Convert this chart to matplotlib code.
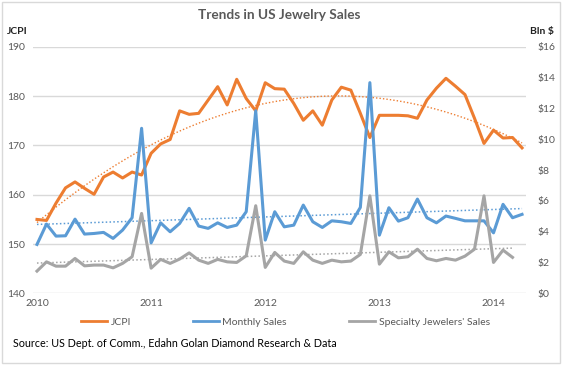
import numpy as np
import matplotlib
matplotlib.use("Agg")
import matplotlib.pyplot as plt
from matplotlib.patches import Rectangle

plt.rcParams['font.family'] = ['Lato', 'DejaVu Sans']

# monthly values, Jan 2010 .. Apr 2014
jcpi = [155.0, 154.8, 158.3, 161.4, 162.6, 161.3, 160.1, 163.6, 164.6, 163.4,
        164.6, 164.0, 168.4, 170.3, 171.2, 177.0, 176.3, 176.5, 179.2, 181.9,
        178.2, 183.4, 179.5, 177.0, 182.7, 181.5, 181.4, 178.5, 175.1, 177.0,
        174.1, 179.2, 181.8, 181.2, 176.5, 171.6, 176.1, 176.1, 176.1, 176.0,
        175.5, 179.2, 181.6, 183.6, 182.0, 180.3, 175.5, 170.4, 173.1, 171.5,
        171.6, 169.5]
monthly_sales = [3.18, 4.50, 3.72, 3.74, 4.82, 3.85, 3.89, 3.96, 3.57, 4.11,
                 4.91, 10.71, 3.28, 4.58, 4.00, 4.54, 5.52, 4.37, 4.22, 4.58,
                 4.28, 4.43, 5.30, 11.85, 3.46, 5.30, 4.32, 4.43, 5.73, 4.65,
                 4.28, 4.71, 4.65, 4.54, 5.58, 13.67, 3.78, 5.56, 4.69, 4.91,
                 6.12, 4.91, 4.58, 5.02, 4.87, 4.71, 4.71, 4.71, 3.93, 5.78,
                 4.91, 5.13]
specialty_sales = [1.45, 2.05, 1.77, 1.77, 2.27, 1.79, 1.84, 1.84, 1.66, 1.95,
                   2.38, 5.19, 1.64, 2.21, 1.95, 2.23, 2.63, 2.16, 1.95, 2.21,
                   2.05, 2.01, 2.44, 5.69, 1.69, 2.66, 2.10, 1.95, 2.70, 2.16,
                   1.95, 2.16, 2.05, 2.10, 2.53, 6.33, 1.90, 2.70, 2.31, 2.38,
                   2.87, 2.27, 2.12, 2.27, 2.16, 2.42, 2.87, 6.33, 2.01, 2.81,
                   2.34]
year_labels = ["2010", "2011", "2012", "2013", "2014"]

ORANGE = "#ED7D31"
BLUE = "#5B9BD5"
GRAY = "#A5A5A5"
TXT = "#595959"

fig = plt.figure(figsize=(5.62, 3.65), dpi=100)
fig.patches.append(Rectangle((0.004, 0.006), 0.992, 0.988, transform=fig.transFigure,
                             fill=False, edgecolor="#D9D9D9", linewidth=1))
ax = fig.add_axes([0.0587, 0.196, 0.8773, 0.676])
ax2 = ax.twinx()

x_j = np.arange(len(jcpi))
x_m = np.arange(len(monthly_sales))
x_s = np.arange(len(specialty_sales))

ax.plot(x_j, jcpi, color=ORANGE, lw=2.2, zorder=3)
ax2.plot(x_m, monthly_sales, color=BLUE, lw=2.2, zorder=3)
ax2.plot(x_s, specialty_sales, color=GRAY, lw=2.2, zorder=3)

# trendlines (poly order 2 for JCPI, linear for sales)
p = np.polyfit(x_j, jcpi, 2)
ax.plot(x_j, np.polyval(p, x_j), color=ORANGE, lw=1, ls=(0, (1, 1.5)))
p = np.polyfit(x_m, monthly_sales, 1)
ax2.plot(x_m, np.polyval(p, x_m), color=BLUE, lw=1.1, ls=(0, (1, 1.5)))
p = np.polyfit(x_s, specialty_sales, 1)
ax2.plot(x_s, np.polyval(p, x_s), color=GRAY, lw=1.1, ls=(0, (1, 1.5)))

ax.set_xlim(-0.42, 51.42)
ax.set_ylim(140, 190)
ax.set_yticks(np.arange(140, 191, 10))
ax.grid(axis="y", color="#D9D9D9", lw=1)
ax.set_axisbelow(True)
ax.set_xticks(np.arange(0, 49, 12))
ax.set_xticklabels(year_labels)
ax2.set_ylim(0, 16)
ax2.set_yticks(np.arange(0, 17, 2))
ax2.set_yticklabels([f"${v}" for v in range(0, 17, 2)])

for a in (ax, ax2):
    for s in a.spines.values():
        s.set_visible(False)
    a.tick_params(length=0, labelsize=7.5, labelcolor=TXT)
ax.tick_params(axis="y", pad=6)
ax2.tick_params(axis="y", pad=8)
ax.tick_params(axis="x", pad=4)

fig.text(0.497, 0.958, "Trends in US Jewelry Sales", ha="center", va="center",
         fontsize=9.8, fontweight="bold", color=TXT)
fig.text(0.012, 0.915, "JCPI", ha="left", va="center", fontsize=7.5,
         fontweight="bold", color="#222222")
fig.text(0.985, 0.915, "Bln $", ha="right", va="center", fontsize=7.5,
         fontweight="bold", color="#222222")

handles = [plt.Line2D([], [], color=c, lw=2) for c in (ORANGE, BLUE, GRAY)]
fig.legend(handles, ["JCPI", "Monthly Sales", "Specialty Jewelers' Sales"],
           loc="center", bbox_to_anchor=(0.508, 0.118), ncol=3, frameon=False,
           fontsize=7.5, labelcolor=TXT, handlelength=2.5, handletextpad=0.3,
           columnspacing=6.0)

fig.text(0.023, 0.060, "Source: US Dept. of Comm., Edahn Golan Diamond Research & Data",
         ha="left", va="center", fontsize=7.75, color="black")

fig.savefig("out.png", dpi=100)
